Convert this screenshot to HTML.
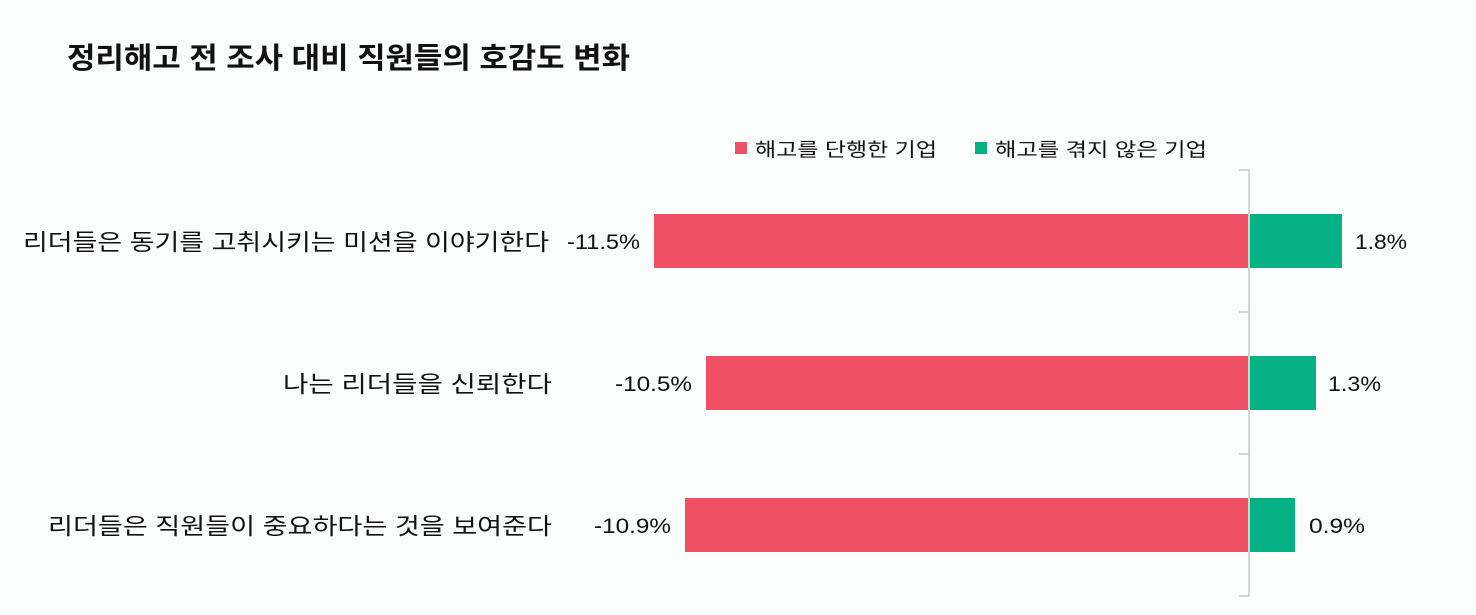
<!DOCTYPE html>
<html><head><meta charset="utf-8"><style>
html,body{margin:0;padding:0;background:#fbfcfc;}
svg{display:block;}
text{font-family:"Liberation Sans","Noto Sans CJK KR",sans-serif;fill:#111;}
</style></head><body>
<svg width="1476" height="615" viewBox="0 0 1476 615">
<rect width="1476" height="615" fill="#fbfcfc"/>
<text x="67" y="68" font-size="29" font-weight="bold" textLength="563" lengthAdjust="spacingAndGlyphs">정리해고 전 조사 대비 직원들의 호감도 변화</text>
<rect x="735" y="142" width="12" height="12" fill="#ef5063"/>
<text x="755" y="156" font-size="19" textLength="182" lengthAdjust="spacingAndGlyphs">해고를 단행한 기업</text>
<rect x="975" y="142" width="12" height="12" fill="#05b185"/>
<text x="995" y="156" font-size="19" textLength="212" lengthAdjust="spacingAndGlyphs">해고를 겪지 않은 기업</text>
<g stroke="#c8c8c8" stroke-width="1.5" fill="none">
<line x1="1249" y1="170" x2="1249" y2="596"/>
<line x1="1239" y1="170" x2="1249" y2="170"/>
<line x1="1239" y1="312" x2="1249" y2="312"/>
<line x1="1239" y1="454" x2="1249" y2="454"/>
<line x1="1239" y1="596" x2="1249" y2="596"/>
</g>
<rect x="654" y="214" width="594" height="54" fill="#ef5063"/>
<rect x="1250" y="214" width="92" height="54" fill="#05b185"/>
<rect x="706" y="356" width="542" height="54" fill="#ef5063"/>
<rect x="1250" y="356" width="66" height="54" fill="#05b185"/>
<rect x="685" y="498" width="563" height="54" fill="#ef5063"/>
<rect x="1250" y="498" width="45" height="54" fill="#05b185"/>
<g font-size="23">
<text x="23" y="250" textLength="526" lengthAdjust="spacingAndGlyphs">리더들은 동기를 고취시키는 미션을 이야기한다</text>
<text x="283" y="392" textLength="269" lengthAdjust="spacingAndGlyphs">나는 리더들을 신뢰한다</text>
<text x="48" y="534" textLength="504" lengthAdjust="spacingAndGlyphs">리더들은 직원들이 중요하다는 것을 보여준다</text>
</g>
<g font-size="21">
<text x="567" y="249" textLength="73" lengthAdjust="spacingAndGlyphs">-11.5%</text>
<text x="615" y="391" textLength="77" lengthAdjust="spacingAndGlyphs">-10.5%</text>
<text x="594" y="533" textLength="77" lengthAdjust="spacingAndGlyphs">-10.9%</text>
<text x="1355" y="249" textLength="52" lengthAdjust="spacingAndGlyphs">1.8%</text>
<text x="1328" y="391" textLength="53" lengthAdjust="spacingAndGlyphs">1.3%</text>
<text x="1309" y="533" textLength="56" lengthAdjust="spacingAndGlyphs">0.9%</text>
</g>
</svg>
</body></html>
